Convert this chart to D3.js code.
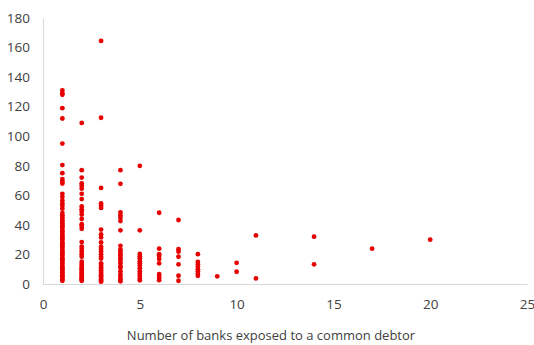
<!DOCTYPE html>
<html>
<head>
<meta charset="utf-8">
<script src="https://cdn.jsdelivr.net/npm/d3@7"></script>
<style>
  body { margin: 0; background: #fff; }
  text { font-family: "Open Sans", "Noto Sans", sans-serif; fill: #404040; }
</style>
</head>
<body>
<svg id="chart" width="534" height="345"></svg>
<script>
// number of banks exposed -> exposure values
var banks1 = [131, 129, 128, 119, 112, 95, 80.5, 75, 71, 69.5, 68, 61, 59, 56.5, 54.5, 53, 51, 48, 46.5, 45,
              43.5, 42.5, 41, 40, 39, 38, 36.5, 35.5, 34.5, 33, 32, 31, 30, 28.5, 27.5, 26.5, 25.5, 24.5, 23,
              22, 21, 20, 19, 17.5, 16.5, 15.5, 14.5, 13.5, 12, 11, 10, 9, 8, 7, 6, 5, 4, 3, 2.2];
var banks2 = [109, 77, 72, 68, 66.5, 64.5, 61, 57.5, 52.5, 50.5, 49, 47, 44, 40.5, 39.2, 37.4, 28.4, 25.3, 23.7,
              21.9, 20.1, 18.5, 15.1, 13.5, 12.2, 11, 10, 9, 7.8, 6.8, 5.8, 4.8, 3.8, 3, 2.2];
var banks3 = [164.5, 112.5, 65, 54.5, 53, 51.5, 36.8, 33.5, 31.5, 28.2, 25.2, 23.7, 22, 20.1, 18.5, 17.2, 14, 12.9,
              11.5, 10.5, 9.3, 8.2, 7, 6, 5, 4, 3, 2.2, 1.6];
var banks4 = [77, 67.8, 48.5, 46.5, 44.8, 42.6, 36.3, 25.8, 23.3, 21.8, 20.3, 19, 17.4, 15.8, 14, 12, 11, 8.6,
              6.5, 4.8, 3.2, 1.8];
var banks5 = [80, 36.3, 20.3, 18.7, 17.4, 15.4, 14, 12.6, 10.6, 8.6, 7, 5.4, 3.6, 2.5];
var banks6 = [48.2, 23.9, 20.2, 19, 17, 14, 6.7, 5.4, 4, 2.6];
var banks7 = [43.3, 23.5, 21.9, 18.5, 13.3, 5.6, 2.2];
var banks8 = [20.2, 15, 13.4, 11.6, 10, 8.6, 7, 5.5];
var banks9 = [5.2];
var banks10 = [14.3, 8.3];
var banks11 = [32.9, 3.8];
var banks14 = [32, 13.3];
var banks17 = [23.9];
var banks20 = [30];

var xTicks = [0, 5, 10, 15, 20, 25];
var yTicks = [0, 20, 40, 60, 80, 100, 120, 140, 160, 180];
var xTitle = "Number of banks exposed to a common debtor";

var groups = [
    [1, banks1], [2, banks2], [3, banks3], [4, banks4], [5, banks5], [6, banks6], [7, banks7],
    [8, banks8], [9, banks9], [10, banks10], [11, banks11], [14, banks14], [17, banks17], [20, banks20]
];
var points = [];
groups.forEach(function(g) {
    g[1].forEach(function(v) { points.push({x: g[0], y: v}); });
});

var svg = d3.select("#chart");

// plot area
var pLeft = 43, pRight = 527, pTop = 18, pBottom = 284;

var x = d3.scaleLinear().domain([0, 25]).range([pLeft, pRight]);
var y = d3.scaleLinear().domain([0, 180]).range([pBottom, pTop]);

// y axis: line + labels, no tick marks
var yAxis = svg.append("g")
    .attr("transform", "translate(" + pLeft + ",0)")
    .call(d3.axisLeft(y).tickValues(yTicks).tickSize(0).tickPadding(13));
yAxis.select(".domain").attr("stroke", "#d9d9d9");
yAxis.selectAll("text").style("font-size", "13.5px").attr("fill", "#404040");

// x axis
var xAxis = svg.append("g")
    .attr("transform", "translate(0," + pBottom + ")")
    .call(d3.axisBottom(x).tickValues(xTicks).tickSize(0).tickPadding(15));
xAxis.select(".domain").attr("stroke", "#d9d9d9");
xAxis.selectAll("text").style("font-size", "13.5px").attr("fill", "#404040");

// x axis title
svg.append("text")
    .attr("x", 271)
    .attr("y", 340)
    .attr("text-anchor", "middle")
    .style("font-size", "13px")
    .text(xTitle);

// dots
svg.append("g")
    .selectAll("circle")
    .data(points)
    .enter()
    .append("circle")
    .attr("cx", function(d) { return x(d.x); })
    .attr("cy", function(d) { return y(d.y); })
    .attr("r", 2.4)
    .attr("fill", "#e60000");
</script>
</body>
</html>
